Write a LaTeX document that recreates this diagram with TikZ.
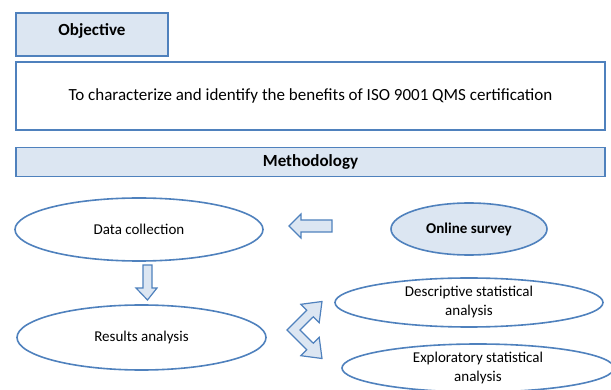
\documentclass[tikz,border=0pt]{standalone}
\usepackage{fontspec}
\setmainfont{Carlito}
\usepackage{tikz}
\usetikzlibrary{shapes.geometric}

\definecolor{qblue}{HTML}{4F81BD}
\definecolor{qfill}{HTML}{DCE6F2}

\begin{document}
\begin{tikzpicture}[x = 1pt, y = -1pt, line width = 1.6pt,
                    txt/.style = {font = \fontsize{15}{19}\selectfont, align = center, inner sep = 0pt},
                    box/.style = {txt, rectangle, draw = qblue, fill = white, font = \fontsize{17}{20}\selectfont},
                    headbox/.style = {box, fill = qfill, font = \fontsize{17}{20}\selectfont\bfseries},
                    oval/.style = {txt, ellipse, draw = qblue, fill = white},
                    blockarrow/.style = {draw = qblue, fill = qfill, line width = 1.2pt, line join = miter}]

\useasboundingbox (0,0) rectangle (611,390);

% objective
\node [headbox, minimum width = 152pt, minimum height = 43pt,
       text height = 12pt, text depth = 10pt] (obj) at (92,34.5) {Objective};
\node [box, minimum width = 589pt, minimum height = 68pt] (aim) at (310.5,96)
      {To characterize and identify the benefits of ISO 9001 QMS certification};

% methodology
\node [headbox, minimum width = 589pt, minimum height = 29pt] (meth) at (310.5,162) {Methodology};

\node [oval, minimum width = 248pt, minimum height = 63pt] (data) at (139,229.5) {Data collection};
\node [oval, minimum width = 249pt, minimum height = 65pt] (res) at (141.5,337.5) {Results analysis};
\node [oval, fill = qfill, minimum width = 156pt, minimum height = 52pt,
       font = \fontsize{15}{19}\selectfont\bfseries] (survey) at (469,229) {Online survey};
\node [oval, minimum width = 268pt, minimum height = 49pt] (desc) at (469,302.5)
      {Descriptive statistical\\analysis};
\node [oval, minimum width = 272pt, minimum height = 48pt] (expl) at (478,368)
      {Exploratory statistical\\analysis};

% block arrows
\draw [blockarrow] (289,226) -- (301,214) -- (301,220) -- (332,220) -- (332,232)
      -- (301,232) -- (301,238) -- cycle;
\draw [blockarrow] (143,265) -- (152,265) -- (152,288) -- (157,288) -- (147.5,300)
      -- (136,288) -- (143,288) -- cycle;
\draw [blockarrow] (287,330) -- (306.7,310.2) -- (300.8,304.3) -- (322,301.5)
      -- (319.2,322.7) -- (313.3,316.8) -- (300,330) -- (313.3,343.2)
      -- (319.2,337.3) -- (322,358.5) -- (300.8,355.7) -- (306.7,349.8) -- cycle;
\end{tikzpicture}
\end{document}
